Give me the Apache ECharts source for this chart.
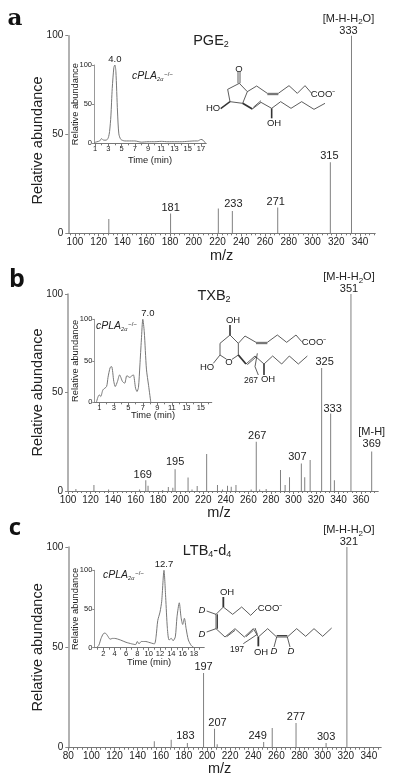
<!DOCTYPE html>
<html>
<head>
<meta charset="utf-8">
<style>html,body{margin:0;padding:0;background:#fff}#main{width:420px;height:777px}</style>
<script src="https://cdn.jsdelivr.net/npm/echarts@6/dist/echarts.min.js"></script>
</head>
<body>
<div id="main"></div>
<script>
// spectra: [m/z, relative abundance]
var spectrumA = [[128.5,7.3],[180.5,10],[220.7,12.6],[232.5,11.3],[270.7,13],[315,36],[332.8,100]];
var spectrumB = [[107,1],[123,3],[136,0.8],[163.5,0.8],[169,5.5],[171,2.7],[184,0.5],[189,2],[193,1.7],[195,11],
    [206.5,6.8],[210,0.8],[214.6,2.5],[223,18.8],[232.6,3],[237,0.8],[241.5,2.7],[244.8,2.2],[249,3],[262.5,0.8],
    [267,25],[270,0.8],[275.8,1],[288.5,10.7],[292.6,3],[296.5,7],[307,14],[310,7],[314.8,15.7],[325,62.5],
    [333,39.3],[336.3,5.4],[351,100],[369.4,20]];
var spectrumC = [[154.4,3.2],[169,4],[183,2.3],[197,37.2],[206.5,9.5],[208.8,1.7],[249,2.8],[256.4,9.8],[277,12.3],[303,2.3],[321,100]];

// chromatogram insets: [time, relative abundance]
var traceA = [[0.9,1],[1.3,2],[1.7,3],[2,6],[2.3,4],[2.7,4],[3,7],[3.2,15],[3.4,35],[3.6,70],[3.85,97],[4,100],[4.15,92],
    [4.4,40],[4.6,12],[4.9,5],[5.5,3],[6,3],[7,3],[8,1.5],[9,2],[10,2],[11,2.5],[12,2],[13,2],[14,2],[15,2.5],[16,3],[16.5,3],[17,5],[17.3,4],[17.7,0]];
var traceB = [[0.6,0],[0.8,6],[1,9],[1.2,7],[1.5,15],[2,19],[2.2,30],[2.5,42],[2.7,43],[3,25],[3.2,19],[3.5,25],[3.8,33],
    [4.2,25],[4.5,23],[4.8,32],[5.2,30],[5.5,32],[5.7,33],[6,17],[6.2,13],[6.4,18],[6.6,45],[6.8,75],[7,100],[7.2,85],[7.5,40],[7.8,20],[8.1,0]];
var traceC = [[0.8,0],[1.2,3],[1.6,12],[2,18],[2.3,19],[2.7,16],[3.2,11],[3.6,12],[4,12],[5,10],[6,7],[7,5],[7.7,4],[8,8],[8.3,5],
    [8.7,8],[9.5,8],[10,7],[11,5],[11.3,14],[11.6,35],[12,46],[12.3,60],[12.7,100],[13,65],[13.3,25],[13.6,10],[14,12],[14.3,9],
    [14.7,14],[15,40],[15.4,58],[15.7,40],[16,30],[16.3,38],[16.6,25],[17,10],[17.5,3],[18,0]];

// labelled peaks: m/z shown above the line
var labelsA = [181,233,271,315,333];
var labelsB = [169,195,267,307,325,333,351,369];
var labelsC = [183,197,207,249,277,303,321];

var peakA = [4.0,100], peakB = [7.0,100], peakC = [12.7,100];

var font = '"Liberation Sans", Arial, sans-serif';
var grey = '#888', ink = '#222';

function range(a, b, step) {
    var out = [];
    for (var v = a; v <= b + 1e-6; v += step) out.push(v);
    return out;
}

var grids = [], xAxes = [], yAxes = [], series = [], graphics = [];

// x axis pair on one grid: long labelled ticks, then a second axis for the small ticks
function addX(gi, o) {
    var base = {
        gridIndex: gi, type: 'value', min: o.min, max: o.max, position: 'bottom',
        splitLine: {show: false},
        axisLine: {onZero: false, lineStyle: {color: '#777', width: 1}}
    };
    xAxes.push(Object.assign({}, base, {
        name: o.name, nameLocation: 'middle', nameGap: o.nameGap, nameMoveOverlap: false,
        nameTextStyle: {fontFamily: font, fontSize: o.nameSize, color: ink, padding: o.namePad || 0},
        axisTick: {show: true, length: 3, customValues: o.major, lineStyle: {color: '#777'}},
        axisLabel: {show: true, margin: o.margin || 4, customValues: o.major, hideOverlap: false,
            fontFamily: font, fontSize: o.size, color: ink,
            showMinLabel: true, showMaxLabel: true, formatter: function (v) { return String(v); }}
    }));
    xAxes.push(Object.assign({}, base, {
        axisTick: {show: true, length: 2, customValues: o.minor, lineStyle: {color: '#777'}},
        axisLabel: {show: false}
    }));
}

function addY(gi, o) {
    yAxes.push({
        gridIndex: gi, type: 'value', min: 0, max: 100, interval: 50,
        name: o.name, nameLocation: 'middle', nameGap: o.nameGap, nameRotate: 90, nameMoveOverlap: false,
        nameTextStyle: {fontFamily: font, fontSize: o.nameSize, color: ink, padding: o.namePad || 0},
        splitLine: {show: false},
        axisLine: {show: true, onZero: false, lineStyle: {color: '#999', width: o.lw || 1}},
        axisTick: {show: true, length: o.tick || 3, lineStyle: {color: grey}},
        axisLabel: {margin: o.margin || 4, fontFamily: font, fontSize: o.size, color: ink}
    });
}

var richSub = {
    s: {fontFamily: font, fontSize: 8, color: ink, padding: [7, 0, 0, 0]}
};

// main spectrum panel
function addSpectrum(o) {
    var gi = grids.length;
    grids.push({left: o.left, top: o.top, width: o.width, height: o.height, containLabel: false, outerBoundsMode: 'none'});
    var xi = xAxes.length, yi = yAxes.length;
    addX(gi, {min: o.min, max: o.max, major: o.major, minor: o.minor, size: 10,
        name: 'm/z', nameSize: 14.5, nameGap: o.nameGap, namePad: o.namePad});
    addY(gi, {name: 'Relative abundance', nameSize: 14.5, nameGap: 23, size: 10, lw: 1.5, tick: 3, margin: 5, namePad: o.yPad});
    series.push({
        type: 'bar', xAxisIndex: xi, yAxisIndex: yi, barWidth: 1, silent: true,
        itemStyle: {color: '#808080'},
        data: o.data.map(function (d) {
            var key = Math.round(d[0]);
            var item = {value: d};
            if (o.labels.indexOf(key) >= 0) {
                var cfg = o.special[key] || {};
                item.label = {show: true, position: 'top', distance: 1,
                    offset: cfg.offset || [0, 0], formatter: cfg.text || String(key),
                    fontFamily: font, fontSize: 11, lineHeight: 12, color: ink, rich: richSub};
            }
            return item;
        })
    });
}

// small chromatogram panel
function addInset(o) {
    var gi = grids.length;
    grids.push({left: o.left, top: o.top, width: o.width, height: o.height, outerBoundsMode: 'none'});
    var xi = xAxes.length, yi = yAxes.length;
    addX(gi, {min: o.min, max: o.max, major: o.major, minor: o.minor, size: 7.5, margin: 2,
        name: 'Time (min)', nameSize: 9.3, nameGap: o.timeGap});
    addY(gi, {name: 'Relative abundance', nameSize: 9.3, nameGap: 14, size: 7.5, margin: 2, tick: 2});
    series.push({
        type: 'line', xAxisIndex: xi, yAxisIndex: yi, symbol: 'none', smooth: 0.25, silent: true,
        lineStyle: {color: '#777', width: 1},
        data: o.data,
        markPoint: {
            silent: true, symbol: 'circle', symbolSize: 0,
            data: [{coord: o.peak, value: o.peak[0]}],
            label: {show: true, position: 'top', distance: 1, offset: o.peakOffset || [0, 0],
                formatter: o.peak[0].toFixed(1), fontFamily: font, fontSize: 9.5, color: ink}
        }
    });
}

function text(x, y, str, o) {
    o = o || {};
    graphics.push({
        type: 'text', x: x, y: y, silent: true,
        style: {
            text: str, fontFamily: o.family || font, fontSize: o.size || 10, fontWeight: o.weight || 'normal',
            fontStyle: o.italic ? 'italic' : 'normal', fill: o.color || ink,
            align: o.align || 'center', verticalAlign: 'middle', rich: o.rich
        }
    });
}

// structures are traced in coordinates of a 3x crop, ox/oy being the crop's origin
function bonds(ox, oy, paths) {
    paths.forEach(function (p) {
        graphics.push({
            type: 'polyline', silent: true,
            shape: {points: p.pts.map(function (q) { return [ox + q[0] / 3, oy + q[1] / 3]; })},
            style: {stroke: '#333', lineWidth: p.w || 0.8, fill: null}
        });
    });
}

function richTitle(size) {
    return {
        n: {fontFamily: font, fontSize: size, color: ink},
        s: {fontFamily: font, fontSize: size * 0.62, color: ink, padding: [size * 0.55, 0, 0, 0]}
    };
}

function cpla(x, y) {
    text(x, y, '{c|cPLA}{s|2\u03B1}{u|\u2212/\u2212}', {align: 'left', rich: {
        c: {fontFamily: font, fontStyle: 'italic', fontSize: 10.5, color: ink},
        s: {fontFamily: font, fontStyle: 'italic', fontSize: 5.5, color: ink, padding: [6, 0, 0, 0]},
        u: {fontFamily: font, fontSize: 6, color: ink, padding: [0, 0, 4, 1]}
    }});
}

addSpectrum({left: 68.3, top: 35.7, width: 306.7, height: 197.6, min: 94.4, max: 352.6,
    major: range(100, 340, 20), minor: range(96, 352, 4), data: spectrumA, labels: labelsA, nameGap: 15, yPad: [0, 12, 0, 0],
    special: {
        181: {offset: [0, 1]}, 233: {offset: [1, 0]}, 271: {offset: [-2, 1]}, 315: {offset: [-1, 1]},
        333: {text: '[M-H-H{s|2}O]\n333', offset: [-3, 2]}
    }});
addSpectrum({left: 68, top: 294, width: 310, height: 197, min: 100, max: 375,
    major: range(100, 360, 20), minor: range(100, 372, 4), data: spectrumB, labels: labelsB, nameGap: 14, namePad: [0, 8, 0, 0],
    special: {
        169: {offset: [-3, 2]}, 195: {offset: [0, 0]}, 267: {offset: [1, 1]}, 307: {offset: [-4, 1]},
        325: {offset: [3, 1]}, 333: {offset: [2, 2]},
        351: {text: '[M-H-H{s|2}O]\n351', offset: [-2, 2]},
        369: {text: '[M-H]\n369', offset: [0, -1]}
    }});
addSpectrum({left: 68.3, top: 547, width: 312.7, height: 200.7, min: 80, max: 350.5,
    major: range(80, 340, 20), minor: range(80, 348, 4), data: spectrumC, labels: labelsC, nameGap: 14, namePad: [0, 10, 0, 0],
    special: {
        183: {offset: [-2, 0]}, 197: {offset: [0, 1]}, 207: {offset: [3, 1]}, 249: {offset: [-6, 1]},
        277: {offset: [0, 1]}, 303: {offset: [0, 1]},
        321: {text: '[M-H-H{s|2}O]\n321', offset: [2, 2]}
    }});

addInset({left: 94, top: 65, width: 112, height: 78.3, min: 0.85, max: 17.75, timeGap: 13,
    major: range(1, 17, 2), minor: range(2, 16, 2), data: traceA, peak: peakA});
addInset({left: 94.3, top: 319.3, width: 117.4, height: 83, min: 0.31, max: 16.5, timeGap: 9,
    major: range(1, 15, 2), minor: range(2, 16, 2), data: traceB, peak: peakB, peakOffset: [5, 0]});
addInset({left: 94.3, top: 570.3, width: 109.7, height: 77.4, min: 0.41, max: 19.76, timeGap: 10,
    major: range(2, 18, 2), minor: range(1, 19, 2), data: traceC, peak: peakC});

// panel letters
text(15, 19, 'a', {size: 23, weight: 'bold', family: '"DejaVu Serif", serif', color: '#111'});
text(17, 280, 'b', {size: 25, weight: 'bold', family: '"Open Sans", sans-serif', color: '#111'});
text(15, 528, 'c', {size: 24, weight: 'bold', family: '"Open Sans", sans-serif', color: '#111'});

// compound names
text(211, 41, '{n|PGE}{s|2}', {rich: richTitle(14.5)});
text(214, 296, '{n|TXB}{s|2}', {rich: richTitle(14.5)});
text(207, 551, '{n|LTB}{s|4}{n|-d}{s|4}', {rich: richTitle(14.5)});

cpla(132, 76);
cpla(96, 326);
cpla(103, 575);

// PGE2 structure
bonds(190, 50, [
    {pts: [[148,100],[172,125],[158,160],[120,155],[113,118],[148,100]]},
    {pts: [[144,65],[144,100]]}, {pts: [[150,65],[150,100]]},
    {pts: [[172,125],[200,108],[232,130],[265,130],[297,107],[322,130],[345,107],[365,130]]},
    {pts: [[232,134],[265,134]]},
    {pts: [[158,160],[187,177]], w: 1.8},
    {pts: [[187,177],[213,157],[245,175],[272,155],[303,175],[335,155],[372,178],[405,160]]},
    {pts: [[190,172],[213,152]]},
    {pts: [[245,175],[245,205]], w: 1.6},
    {pts: [[120,155],[92,176]], w: 1.4}
]);
text(323, 94, 'COO\u207B', {size: 9.5});
text(213, 108, 'HO', {size: 9.5});
text(274, 123, 'OH', {size: 9.5});
text(239, 69, 'O', {size: 9.5});

// TXB2 structure
bonds(0, 260, [
    {pts: [[690,225],[715,250],[715,285],[696,298]]},
    {pts: [[680,298],[660,285],[660,250],[690,225]]},
    {pts: [[690,195],[690,225]], w: 1.6},
    {pts: [[715,250],[735,228],[768,247],[802,247],[832,225],[860,247],[888,225],[905,245]]},
    {pts: [[768,251],[802,251]]},
    {pts: [[715,285],[738,312]], w: 1.8},
    {pts: [[738,312],[765,288],[792,312],[818,288],[845,312],[868,288],[895,312],[922,288]]},
    {pts: [[742,314],[768,291]]},
    {pts: [[792,312],[792,345]], w: 1.6},
    {pts: [[660,285],[640,310]]},
    {pts: [[772,280],[765,320],[775,345]]}
]);
text(314, 342, 'COO\u207B', {size: 9.5});
text(233, 320, 'OH', {size: 9.5});
text(207, 367, 'HO', {size: 9.5});
text(229, 362, 'O', {size: 9.5});
text(268, 379, 'OH', {size: 9.5});
text(251, 381, '267', {size: 8.5});

// LTB4-d4 structure
bonds(0, 517, [
    {pts: [[670,270],[670,240]], w: 1.8},
    {pts: [[648,292],[670,270],[698,292],[725,270],[752,295],[772,275]]},
    {pts: [[620,282],[648,292],[648,335],[620,345]]},
    {pts: [[652,292],[652,335]], w: 1.2},
    {pts: [[648,335],[675,360],[705,335],[733,360],[760,335],[775,360],[803,335],[830,360],[862,360],[890,335],[917,358],[942,335],[968,358],[995,333]]},
    {pts: [[680,359],[705,340]]}, {pts: [[738,359],[760,340]]},
    {pts: [[830,356],[862,356]], w: 1.2},
    {pts: [[775,360],[775,388]], w: 1.8},
    {pts: [[830,360],[822,390]]}, {pts: [[862,360],[870,390]]},
    {pts: [[765,333],[772,352],[730,380]]}
]);
text(270, 608, 'COO\u207B', {size: 9.5});
text(227, 592, 'OH', {size: 9.5});
text(261, 652, 'OH', {size: 9.5});
text(237, 650, '197', {size: 8.5});
[[202,610],[202,634],[274,651],[291,651]].forEach(function (d) {
    text(d[0], d[1], 'D', {size: 9.5, italic: true});
});

var myChart = echarts.init(document.getElementById('main'), null, {renderer: 'canvas'});
myChart.setOption({
    animation: false,
    backgroundColor: '#fff',
    grid: grids,
    xAxis: xAxes,
    yAxis: yAxes,
    series: series,
    graphic: {elements: graphics}
});
</script>
</body>
</html>
